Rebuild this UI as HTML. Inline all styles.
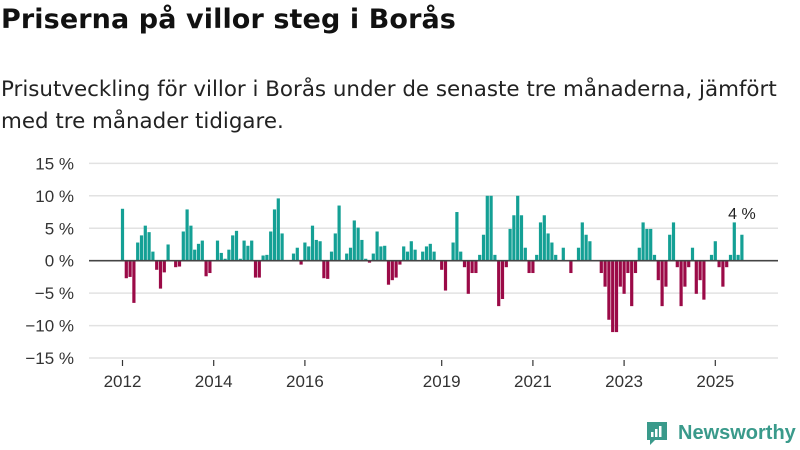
<!DOCTYPE html>
<html><head><meta charset="utf-8">
<style>
body{margin:0;width:800px;height:450px;background:#fff;font-family:"Liberation Sans",sans-serif;overflow:hidden;position:relative;color:#111}
#title{position:absolute;left:1px;top:4px;font-family:"DejaVu Sans",sans-serif;font-size:27px;font-weight:bold;margin:0;letter-spacing:0.1px;white-space:nowrap}
#sub{position:absolute;left:1px;top:74px;font-family:"DejaVu Sans",sans-serif;font-size:21.4px;line-height:32px;width:790px;color:#222}
svg{position:absolute;left:0;top:0}
#logo{position:absolute;left:645px;top:420px;display:flex;align-items:center;color:#3a9a8b;font-size:20px;font-weight:bold}
</style></head><body>
<h1 id="title">Priserna på villor steg i Borås</h1>
<div id="sub">Prisutveckling för villor i Borås under de senaste tre månaderna, jämfört med tre månader tidigare.</div>
<svg id="chart" width="800" height="450"></svg>
<div id="logo">
<svg width="24" height="26" style="position:static;margin-right:9px"><path d="M2 2h20v18h-12l-5 5v-5h-3z" fill="#3a9a8b"/><rect x="6" y="12" width="2.5" height="5" fill="#fff"/><rect x="10" y="9" width="2.5" height="8" fill="#fff"/><rect x="14" y="6" width="2.5" height="11" fill="#fff"/></svg>
<span>Newsworthy</span></div>
<script>
const values=[8.0,-2.7,-2.5,-6.5,2.8,3.9,5.4,4.4,1.4,-1.4,-4.3,-1.8,2.5,0,-1.0,-0.9,4.5,7.9,5.4,1.7,2.6,3.1,-2.4,-1.9,0,3.1,1.2,0.3,1.7,3.9,4.6,0.3,3.1,2.3,3.1,-2.6,-2.6,0.8,0.9,4.5,7.9,9.6,4.2,0,0,
1.1,2.0,-0.6,2.8,2.2,5.4,3.2,3.0,-2.7,-2.8,1.4,4.2,8.5,0,1.1,2.0,6.2,5.1,3.2,0.3,-0.3,1.1,4.5,2.2,2.3,-3.7,-3.0,-2.6,-0.6,2.2,1.4,3.0,1.7,0,1.4,2.2,2.6,1.4,
0,-1.4,-4.6,0,2.8,7.5,1.4,-1.0,-5.1,-1.9,-1.9,0.9,4.0,10,10,0.9,-7.0,-5.9,-1.0,4.9,7.0,10,7.0,2.0,-1.9,-1.9,0.9,5.9,7.0,4.2,2.8,0.9,0,2.0,0,-1.9,0,2.0,5.9,4.0,3.0,0,0,-1.9,-4.0,
-9.1,-11,-11,-4.0,-5.1,-1.9,-7.0,-1.9,2.0,5.9,4.9,4.9,0.9,-3.0,-7.0,-4.0,4.0,5.9,-1.0,-7.0,-4.0,-1.0,2.0,-5.1,-3.0,-6.0,0,0.9,3.0,-1.0,-4.0,-1.0,0.9,5.9,0.9,4.0];
const yTicks=[15,10,5,0,-5,-10,-15];
const yTickLabels=["15 %","10 %","5 %","0 %","\u22125 %","\u221210 %","\u221215 %"];
const xTickYears=[2012,2014,2016,2019,2021,2023,2025];
const lastLabel="4 %";
const NS="http://www.w3.org/2000/svg";
const svg=document.getElementById('chart');
const x0=122.5,step=3.8,startYear=2012;
function xs(i){return x0+i*step;}
function ys(v){return 260.7-v*6.49;}
function mk(t,a){const e=document.createElementNS(NS,t);for(const k in a)e.setAttribute(k,a[k]);svg.appendChild(e);return e;}
yTicks.forEach((v,i)=>{
 if(v!==0){const g=mk('line',{x1:89,x2:778,y1:ys(v),y2:ys(v),stroke:'#e2e2e2','stroke-width':1.5});
 
 }
 const t=mk('text',{x:74,y:ys(v)+6,'text-anchor':'end','font-size':17,fill:'#333','font-family':'Liberation Sans, sans-serif'});
 t.textContent=yTickLabels[i];
 
 
});
values.forEach((v,i)=>{
 if(v===0)return;
 const r=mk('rect',{x:xs(i)-1.6,width:3.2,y:v>0?ys(v):ys(0),height:Math.abs(ys(v)-ys(0)),fill:v>0?'#14a095':'#9b0a47'});
 
 
});
const z=mk('line',{x1:89,x2:778,y1:ys(0),y2:ys(0),stroke:'#444','stroke-width':1.6});


xTickYears.forEach(yr=>{
 const x=xs((yr-startYear)*12);
 const tk=mk('line',{x1:x,x2:x,y1:360,y2:366,stroke:'#333','stroke-width':1.2});
 
 
 const t=mk('text',{x:x,y:387,'text-anchor':'middle','font-size':17,fill:'#333','font-family':'Liberation Sans, sans-serif'});
 t.textContent=yr;
 
 
});
const li=values.length-1;
const lt=mk('text',{x:xs(li),y:219,'text-anchor':'middle','font-size':16,fill:'#222','font-family':'Liberation Sans, sans-serif'});
lt.textContent=lastLabel;


</script>
</body></html>
